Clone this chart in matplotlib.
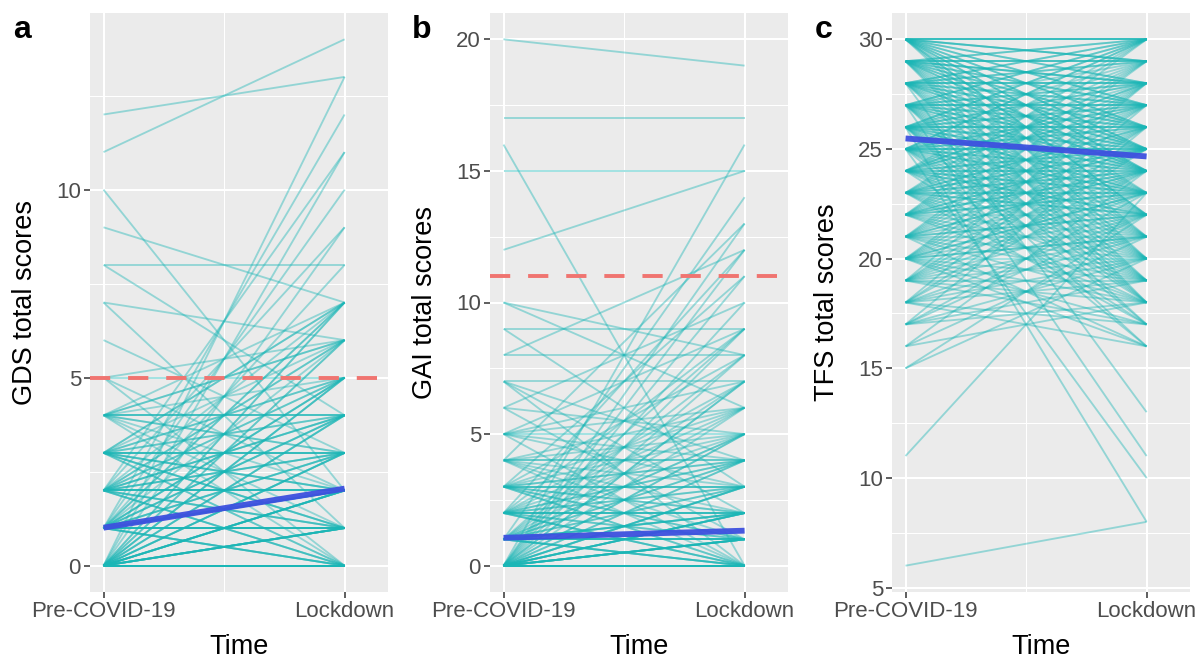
import matplotlib
matplotlib.use('Agg')
import matplotlib.pyplot as plt

plt.rcParams['font.family'] = ['Liberation Sans', 'DejaVu Sans']

time_labels = ['Pre-COVID-19', 'Lockdown']

# ---- Panel a: GDS ----
gds_pre = [12, 11, 10, 9, 8, 8, 7, 7, 6, 5, 5, 5, 5,
           4, 4, 4, 4, 4, 4, 4, 4,
           3, 3, 3, 3, 3, 3, 3, 3, 3, 3, 3, 3,
           2, 2, 2, 2, 2, 2, 2, 2, 2, 2, 2, 2, 2, 2, 2, 2,
           1, 1, 1, 1, 1, 1, 1, 1, 1, 1, 1, 1, 1, 1, 1, 1, 1, 1, 1, 1,
           0, 0, 0, 0, 0, 0, 0, 0, 0, 0, 0, 0, 0, 0, 0, 0, 0, 0, 0, 0,
           0, 0, 0, 0, 0, 0, 0, 0, 0, 0,
           0, 0, 0, 0, 0, 0, 0, 0, 0, 0, 0, 0, 0, 0, 0,
           1, 1, 1, 1, 1, 1, 1, 1, 1, 1,
           2, 2, 2, 2, 2, 2, 2, 2,
           3, 3, 3, 3, 3, 3, 3,
           4, 4, 4, 4]
gds_post = [13, 14, 2, 7, 8, 4, 6, 1, 3, 6, 5, 0, 2,
            4, 4, 2, 6, 1, 3, 7, 0,
            3, 3, 3, 5, 1, 2, 4, 0, 6, 7, 2, 1,
            2, 2, 2, 3, 4, 1, 0, 5, 7, 6, 1, 3, 9, 0, 4, 11,
            1, 1, 1, 2, 3, 4, 5, 0, 0, 6, 7, 2, 3, 12, 8, 1, 5, 4, 2, 10,
            0, 0, 0, 0, 0, 0, 1, 1, 1, 2, 2, 2, 3, 3, 4, 4, 5, 5, 6, 7,
            7, 1, 0, 2, 3, 9, 11, 0, 1, 13,
            0, 0, 0, 1, 1, 2, 3, 2, 0, 4, 1, 5, 0, 2, 6,
            1, 2, 0, 3, 1, 4, 2, 5, 0, 7,
            2, 3, 1, 0, 4, 2, 5, 6,
            3, 2, 4, 1, 5, 0, 7,
            5, 4, 3, 6]
gds_summary = [1.01, 2.05]
gds_cutoff = 5

# ---- Panel b: GAI ----
gai_pre = [20, 17, 16, 15, 12, 10, 10, 9, 9, 8, 8,
           7, 7, 7, 7, 6, 6, 6, 5, 5, 5, 5, 5, 4, 4, 4, 4, 4,
           3, 3, 3, 3, 3, 3, 3, 3, 3,
           2, 2, 2, 2, 2, 2, 2, 2, 2, 2, 2,
           1, 1, 1, 1, 1, 1, 1, 1, 1, 1, 1, 1, 1, 1,
           0, 0, 0, 0, 0, 0, 0, 0, 0, 0, 0, 0, 0, 0, 0, 0, 0, 0, 0, 0,
           0, 0, 0, 0, 0, 0, 0, 0, 0, 0, 0, 0, 0,
           0, 0, 0, 0, 0, 0, 0, 0, 0, 0, 0, 0, 0, 0,
           1, 1, 1, 1, 1, 1, 1, 1, 1, 1,
           2, 2, 2, 2, 2, 2, 2,
           3, 3, 3, 3, 3, 3,
           4, 4, 4, 4, 5, 5]
gai_post = [19, 17, 0, 15, 15, 8, 6, 9, 3, 8, 12,
            7, 2, 0, 4, 5, 1, 10, 5, 3, 0, 9, 7, 4, 2, 6, 0, 13,
            3, 3, 1, 0, 5, 8, 2, 11, 4,
            2, 2, 0, 1, 4, 7, 3, 6, 12, 0, 5,
            1, 1, 0, 0, 2, 3, 4, 5, 7, 9, 14, 2, 6, 1,
            0, 0, 0, 0, 0, 0, 0, 0, 0, 0, 1, 1, 1, 1, 1, 2, 2, 2, 2, 3,
            3, 3, 4, 5, 7, 8, 11, 16, 12, 10, 13, 6, 9,
            0, 0, 0, 1, 1, 2, 0, 3, 1, 4, 2, 5, 0, 7,
            1, 0, 2, 1, 3, 0, 4, 8, 2, 5,
            2, 1, 3, 0, 4, 9, 2,
            3, 2, 1, 4, 6, 0,
            4, 3, 1, 5, 4, 6]
gai_summary = [1.06, 1.33]
gai_cutoff = 11

# ---- Panel c: TFS ----
tfs_pre = [30, 30, 30, 30, 30, 30, 30, 30, 30, 30, 30, 30,
           29, 29, 29, 29, 29, 29, 29, 29, 29, 29, 29, 29,
           28, 28, 28, 28, 28, 28, 28, 28, 28, 28, 28, 28,
           27, 27, 27, 27, 27, 27, 27, 27, 27, 27, 27, 27,
           26, 26, 26, 26, 26, 26, 26, 26, 26, 26, 26, 26, 26, 26,
           25, 25, 25, 25, 25, 25, 25, 25, 25, 25, 25, 25,
           24, 24, 24, 24, 24, 24, 24, 24, 24, 24,
           23, 23, 23, 23, 23, 23, 23, 23, 23, 23,
           22, 22, 22, 22, 22, 22, 22, 22,
           21, 21, 21, 21, 21, 21, 21,
           20, 20, 20, 20, 20, 20, 20,
           19, 19, 19, 19, 19,
           18, 18, 18, 18,
           17, 17, 16, 15, 11, 6,
           30, 30, 30, 30, 30, 30, 30, 30, 30, 30,
           29, 29, 29, 29, 29, 29, 29, 29, 29, 29,
           28, 28, 28, 28, 28, 28, 28, 28, 28, 28,
           27, 27, 27, 27, 27, 27, 27, 27, 27, 27,
           26, 26, 26, 26, 26, 26, 26, 26, 26, 26,
           25, 25, 25, 25, 25, 25, 25, 25, 25, 25,
           24, 24, 24, 24, 24, 24, 24, 24, 24,
           23, 23, 23, 23, 23, 23, 23, 23, 23,
           22, 22, 22, 22, 22, 22, 22, 22,
           21, 21, 21, 21, 21, 21, 21, 21,
           20, 20, 20, 20, 20, 20, 20, 20,
           19, 19, 19, 19, 19, 19,
           18, 18, 18, 18, 18,
           17, 17, 17, 17, 16, 16, 15]
tfs_post = [30, 30, 30, 29, 28, 27, 26, 25, 24, 22, 20, 29,
            30, 29, 29, 28, 27, 26, 25, 24, 23, 21, 19, 28,
            30, 29, 28, 28, 27, 26, 25, 24, 22, 20, 18, 13,
            30, 28, 27, 27, 26, 25, 24, 23, 21, 19, 17, 11,
            30, 29, 28, 27, 26, 26, 25, 24, 23, 22, 20, 18, 16, 8,
            30, 29, 27, 26, 25, 25, 24, 23, 22, 21, 19, 10,
            29, 28, 27, 25, 24, 24, 23, 22, 20, 17,
            30, 28, 26, 25, 24, 23, 23, 22, 21, 18,
            29, 27, 25, 24, 23, 22, 21, 19,
            28, 26, 24, 22, 21, 20, 16,
            27, 25, 23, 21, 20, 19, 17,
            26, 24, 22, 19, 18,
            25, 22, 19, 17,
            23, 20, 18, 20, 23, 8,
            27, 28, 29, 30, 26, 24, 23, 21, 25, 22,
            30, 29, 27, 26, 25, 24, 22, 20, 28, 18,
            29, 28, 27, 26, 25, 24, 23, 21, 19, 30,
            29, 28, 27, 26, 25, 24, 22, 20, 18, 30,
            30, 28, 27, 26, 25, 24, 23, 21, 19, 17,
            30, 28, 27, 26, 25, 24, 23, 20, 18, 16,
            30, 28, 27, 26, 25, 23, 22, 21, 19,
            29, 27, 26, 25, 24, 22, 20, 19, 17,
            30, 28, 26, 25, 24, 23, 20, 18,
            29, 27, 25, 24, 23, 22, 19, 18,
            28, 26, 24, 23, 22, 21, 18, 16,
            28, 25, 23, 21, 20, 17,
            27, 24, 21, 20, 16,
            26, 22, 19, 18, 21, 24, 22]
tfs_summary = [25.48, 24.66]

panels = [
    dict(tag='a', ylabel='GDS total scores', pre=gds_pre, post=gds_post,
         summary=gds_summary, cutoff=gds_cutoff, ylim=(-0.7, 14.7),
         major=[0, 5, 10], minor=[2.5, 7.5, 12.5], left=90),
    dict(tag='b', ylabel='GAI total scores', pre=gai_pre, post=gai_post,
         summary=gai_summary, cutoff=gai_cutoff, ylim=(-1.0, 21.0),
         major=[0, 5, 10, 15, 20], minor=[2.5, 7.5, 12.5, 17.5], left=490),
    dict(tag='c', ylabel='TFS total scores', pre=tfs_pre, post=tfs_post,
         summary=tfs_summary, cutoff=None, ylim=(4.8, 31.2),
         major=[5, 10, 15, 20, 25, 30], minor=[7.5, 12.5, 17.5, 22.5, 27.5], left=892),
]

W, H = 1203, 662
fig = plt.figure(figsize=(W / 100, H / 100), dpi=100)
fig.patch.set_facecolor('white')

top_px, bot_px, width_px = 13, 592, 298
line_col = '#1AB6B6'
xs = [1, 2]

for p in panels:
    ax = fig.add_axes([p['left'] / W, (H - bot_px) / H, width_px / W, (bot_px - top_px) / H])
    ax.set_facecolor('#EBEBEB')
    for s in ax.spines.values():
        s.set_visible(False)
    ax.set_xlim(0.944, 2.18)
    ax.set_ylim(*p['ylim'])
    ax.set_xticks(xs)
    ax.set_xticklabels(time_labels)
    ax.set_xticks([1.5], minor=True)
    ax.set_yticks(p['major'])
    ax.set_yticks(p['minor'], minor=True)
    ax.grid(which='major', color='white', linewidth=1.5, zorder=0)
    ax.grid(which='minor', color='white', linewidth=0.75, zorder=0)
    ax.set_axisbelow(True)
    ax.tick_params(which='major', length=4, width=1.1, color='#333333',
                   labelcolor='#4D4D4D', labelsize=16, pad=2.5)
    ax.tick_params(which='minor', length=0)

    for a, b in zip(p['pre'], p['post']):
        ax.plot(xs, [a, b], color=line_col, alpha=0.42, linewidth=1.35,
                solid_capstyle='butt', zorder=2)
    if p['cutoff'] is not None:
        ax.axhline(p['cutoff'], color='#F07470', linewidth=2.8,
                   dashes=(5.2, 4.6), zorder=3)
    ax.plot(xs, p['summary'], color='#3D50DF', linewidth=4.2,
            solid_capstyle='butt', zorder=4, alpha=0.95)

    ax.set_xlabel('Time', fontsize=19.5, color='black', va='center')
    ax.xaxis.set_label_coords(0.5, (bot_px - 647) / (bot_px - top_px))
    ax.set_ylabel(p['ylabel'], fontsize=19.5, color='black', va='center')
    ax.yaxis.set_label_coords(-65 / width_px, 0.5)

    fig.text((p['left'] - 68) / W, 1 - 30 / H, p['tag'], fontsize=23,
             fontweight='bold', ha='center', va='center')

fig.savefig('out.png', dpi=100)
